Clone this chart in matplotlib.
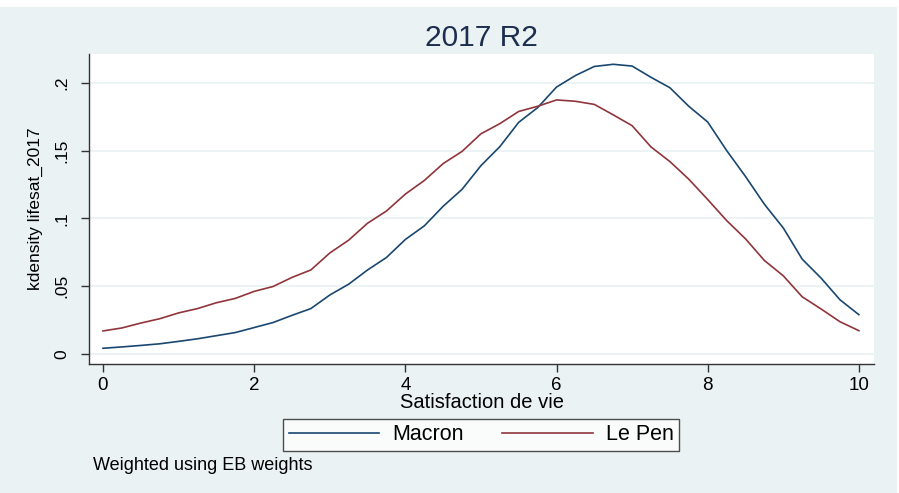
import matplotlib
matplotlib.use("Agg")
import matplotlib.pyplot as plt
import matplotlib.patches as patches

# kernel density estimates
satisfaction = [0, 0.25, 0.5, 0.75, 1.0, 1.25, 1.5, 1.75, 2.0, 2.25, 2.5, 2.75,
                3.0, 3.25, 3.5, 3.75, 4.0, 4.25, 4.5, 4.75, 5.0, 5.25, 5.5, 5.75,
                6.0, 6.25, 6.5, 6.75, 7.0, 7.25, 7.5, 7.75, 8.0, 8.25, 8.5, 8.75,
                9.0, 9.25, 9.5, 9.75, 10.0]
macron = [0.0042, 0.0052, 0.0063, 0.0075, 0.0093, 0.0112, 0.0135, 0.0158, 0.0195,
          0.0232, 0.0285, 0.0335, 0.0435, 0.0515, 0.062, 0.0712, 0.0845, 0.0945,
          0.109, 0.1215, 0.139, 0.153, 0.171, 0.1818, 0.197, 0.2055, 0.2122,
          0.2138, 0.2125, 0.2042, 0.1965, 0.1828, 0.1712, 0.1502, 0.131, 0.1105,
          0.093, 0.070, 0.056, 0.040, 0.029]
lepen = [0.017, 0.0192, 0.0228, 0.026, 0.0303, 0.0335, 0.0378, 0.041, 0.0462,
         0.0498, 0.0565, 0.062, 0.0745, 0.084, 0.0965, 0.1055, 0.118, 0.128,
         0.1405, 0.1495, 0.1625, 0.170, 0.179, 0.1828, 0.1875, 0.1865, 0.1842,
         0.1765, 0.1685, 0.1528, 0.142, 0.129, 0.114, 0.0985, 0.085, 0.069,
         0.0577, 0.0422, 0.0332, 0.0238, 0.0172]

yticks = [0, 0.05, 0.1, 0.15, 0.2]
ytick_labels = ["0", ".05", ".1", ".15", ".2"]
xticks = [0, 2, 4, 6, 8, 10]

plt.rcParams["font.family"] = ["Liberation Sans", "DejaVu Sans"]

W, H = 899, 493
fig = plt.figure(figsize=(W / 100, H / 100), dpi=100, facecolor="white")
bg = "#EAF2F3"
fig.patches.append(patches.Rectangle((0, 0), 897 / W, (H - 7) / H, transform=fig.transFigure,
                                     facecolor=bg, edgecolor="none", zorder=-10))

ax = fig.add_axes([89 / W, (H - 364) / H, (874 - 89) / W, (364 - 54) / H])
ax.set_facecolor("white")

ax.plot(satisfaction, macron, color="#1A476F", lw=1.2, label="Macron")
ax.plot(satisfaction, lepen, color="#90353B", lw=1.2, label="Le Pen")

ax.set_xlim(-0.185, 10.2)
ax.set_ylim(-0.0074, 0.2214)
ax.set_xticks(xticks)
ax.set_xticklabels([str(t) for t in xticks])
ax.set_yticks(yticks)
ax.set_yticklabels(ytick_labels, rotation=90, va="center")
ax.grid(axis="y", color=bg, lw=1.3)
ax.set_axisbelow(True)

for s in ["top", "right"]:
    ax.spines[s].set_visible(False)
for s in ["left", "bottom"]:
    ax.spines[s].set_color("#333333")
    ax.spines[s].set_linewidth(1.0)
ax.tick_params(axis="both", length=6, width=1.0, color="#333333")
ax.tick_params(axis="x", pad=3, labelsize=13.5)
ax.tick_params(axis="y", pad=8, labelsize=12.5)

ax.set_xlabel("Satisfaction de vie", fontsize=14.5, labelpad=0)
ax.set_ylabel("kdensity lifesat_2017", fontsize=12.5, labelpad=8)

fig.text(481 / W, 1 - 38 / H, "2017 R2", ha="center", va="center", fontsize=21.5, color="#1C2D4F")

leg = ax.legend(loc="center", bbox_to_anchor=(481 / W, 1 - 435 / H), bbox_transform=fig.transFigure,
                ncol=2, fontsize=15.5, frameon=True, fancybox=False, handlelength=4.2,
                handletextpad=0.6, columnspacing=1.8, borderpad=0.25)
leg.get_frame().set_edgecolor("#222222")
leg.get_frame().set_linewidth(1.0)
leg.get_frame().set_facecolor("white")

fig.text(93 / W, 1 - 465 / H, "Weighted using EB weights", ha="left", va="center", fontsize=13)

fig.savefig("out.png", dpi=100, facecolor=fig.get_facecolor())
